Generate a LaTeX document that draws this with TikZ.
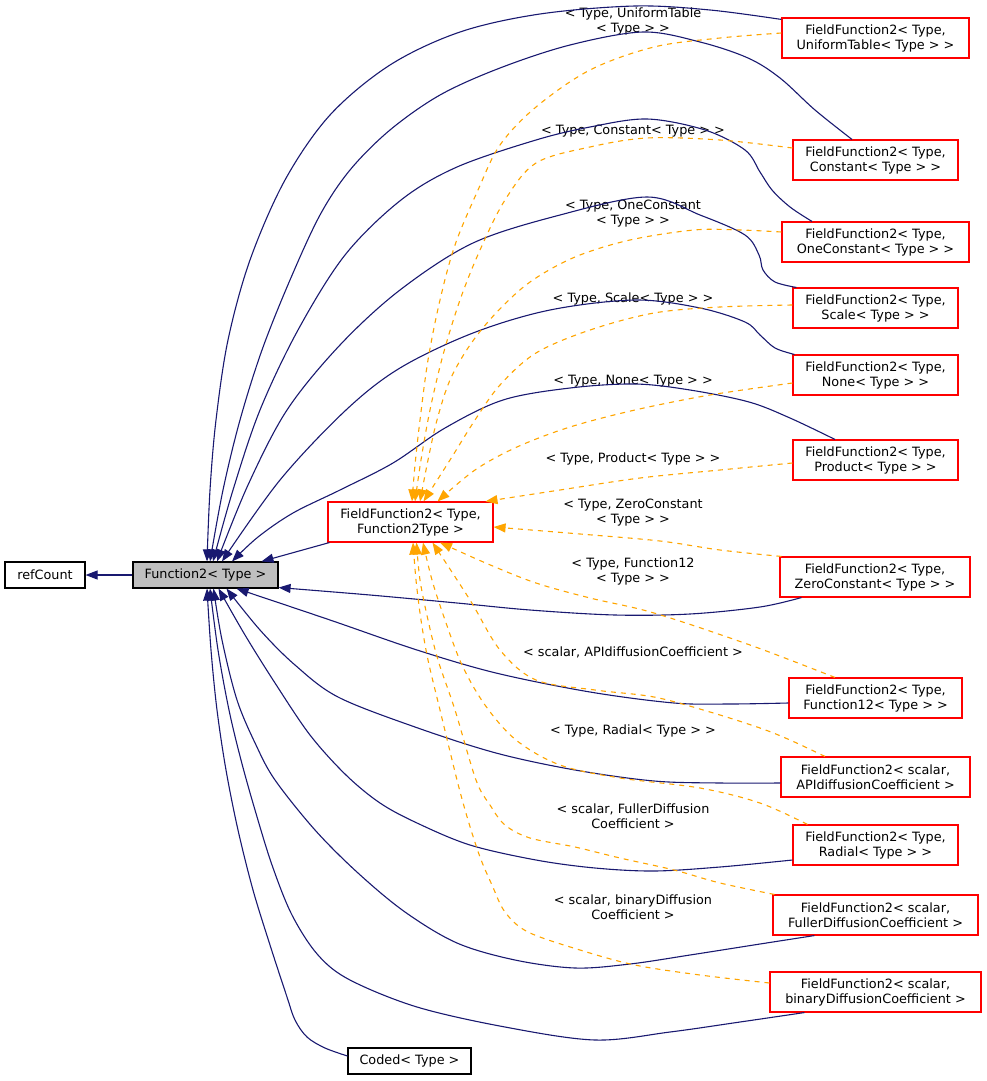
\documentclass[tikz,border=0pt]{standalone}
\usepackage{fontspec}
\setmainfont{DejaVu Sans}
\usetikzlibrary{arrows.meta}
\definecolor{navyedge}{HTML}{191970}
\definecolor{orangeedge}{HTML}{FFA500}
\definecolor{nodegray}{HTML}{BFBFBF}
\definecolor{nodered}{HTML}{FF0000}
\begin{document}
\begin{tikzpicture}[x=1pt,y=-1pt,
  box/.style={draw=black, line width=1.1pt, inner sep=0pt, align=center, font=\fontsize{12.8}{15}\selectfont},
  redbox/.style={box, draw=nodered, minimum height=40pt},
  lbl/.style={inner sep=0pt, align=center, font=\fontsize{12.8}{15}\selectfont},
  inh/.style={draw=navyedge, line width=1.1pt, -{Triangle[length=12pt,width=9pt]}},
  tmpl/.style={draw=orangeedge, line width=1.1pt, dash pattern=on 5pt off 5pt, -{Triangle[length=12pt,width=9pt]}},
  sm/.style={smooth, tension=0.55}
]
\useasboundingbox (0,0) rectangle (987,1081);

% nodes
\node[box, minimum width=80pt, minimum height=26pt] (rc) at (45,575) {refCount};
\node[box, fill=nodegray, minimum width=145pt, minimum height=26pt] (f2) at (205.5,575) {Function2< Type >};
\node[redbox, minimum width=165pt] (ff) at (410.5,522) {FieldFunction2< Type,\\Function2Type >};
\node[redbox, minimum width=187pt] (ut) at (875.5,38) {FieldFunction2< Type,\\ UniformTable< Type > >};
\node[redbox, minimum width=165pt] (cst) at (875.5,160) {FieldFunction2< Type,\\ Constant< Type > >};
\node[redbox, minimum width=187pt] (onec) at (875.5,242) {FieldFunction2< Type,\\ OneConstant< Type > >};
\node[redbox, minimum width=165pt] (scl) at (875.5,308) {FieldFunction2< Type,\\ Scale< Type > >};
\node[redbox, minimum width=165pt] (nne) at (875.5,375) {FieldFunction2< Type,\\ None< Type > >};
\node[redbox, minimum width=165pt] (prod) at (875.5,460) {FieldFunction2< Type,\\ Product< Type > >};
\node[redbox, minimum width=190pt] (zero) at (875,577) {FieldFunction2< Type,\\ ZeroConstant< Type > >};
\node[redbox, minimum width=173pt] (f12) at (875.5,698) {FieldFunction2< Type,\\ Function12< Type > >};
\node[redbox, minimum width=189pt] (api) at (875.5,777) {FieldFunction2< scalar,\\ APIdiffusionCoefficient >};
\node[redbox, minimum width=165pt] (rad) at (875.5,845) {FieldFunction2< Type,\\ Radial< Type > >};
\node[redbox, minimum width=205pt] (ful) at (875.5,915) {FieldFunction2< scalar,\\ FullerDiffusionCoefficient >};
\node[redbox, minimum width=211pt] (bin) at (875.5,992) {FieldFunction2< scalar,\\ binaryDiffusionCoefficient >};
\node[box, minimum width=123pt, minimum height=26pt] (coded) at (409.5,1061) {Coded< Type >};

% labels
\node[lbl] (l1) at (633,21) {< Type, UniformTable\\< Type > >};
\node[lbl] (l2) at (633,131) {< Type, Constant< Type > >};
\node[lbl] (l3) at (633,214) {< Type, OneConstant\\< Type > >};
\node[lbl] (l4) at (633,299) {< Type, Scale< Type > >};
\node[lbl] (l5) at (633,381) {< Type, None< Type > >};
\node[lbl] (l6) at (633,459) {< Type, Product< Type > >};
\node[lbl] (l7) at (633,513) {< Type, ZeroConstant\\< Type > >};
\node[lbl] (l8) at (633,571) {< Type, Function12\\< Type > >};
\node[lbl] (l9) at (633,652) {< scalar, APIdiffusionCoefficient >};
\node[lbl] (l10) at (633,731) {< Type, Radial< Type > >};
\node[lbl] (l11) at (633,816) {< scalar, FullerDiffusion\\Coefficient >};
\node[lbl] (l12) at (633,907) {< scalar, binaryDiffusion\\Coefficient >};

% navy inheritance edges
\draw[inh] (f2.west) -- (rc.east);
\draw[inh] ([xshift=2pt]ff.south west) -- ([xshift=56pt]f2.north);
\draw[inh] plot[sm] coordinates {([yshift=-2pt]ut.north west) (710,10) (635,6) (540,14) (460,32) (390,65) (330,115) (285,180) (250,260) (228,340) (216,420) (210,490) ([xshift=1.5pt]f2.north)};
\draw[inh] plot[sm] coordinates {([xshift=-23.5pt]cst.north) (815,110) (780,78) (748,58) (700,42) (643,32) (570,45) (500,68) (440,95) (390,130) (350,170) (320,215) (290,280) (262,350) (240,420) (223,490) ([xshift=4.5pt]f2.north)};
\draw[inh] plot[sm] coordinates {([xshift=-63.5pt]onec.north) (790,207) (772,190) (760,172) (745,150) (705,130) (647,119) (590,127) (536,140) (457,167) (401,200) (345,255) (298,330) (260,410) (233,490) ([xshift=7.5pt]f2.north)};
\draw[inh] plot[sm] coordinates {([xshift=4pt]scl.north west) (775,282) (763,270) (759,255) (745,235) (700,215) (647,197) (560,215) (473,243) (400,290) (340,345) (287,410) (248,485) ([xshift=11.5pt]f2.north)};
\draw[inh] plot[sm] coordinates {([xshift=2pt]nne.north west) (775,348) (760,335) (745,322) (700,308) (635,300) (550,310) (473,333) (400,368) (346,410) (280,480) ([xshift=16.5pt]f2.north)};
\draw[inh] plot[sm] coordinates {([xshift=-40.5pt]prod.north) (790,418) (749,402) (690,390) (635,384) (570,388) (503,400) (445,428) (393,463) (340,490) (293,513) (258,537) ([xshift=26.5pt]f2.north)};
\draw[inh] plot[sm] coordinates {([xshift=22pt]zero.south west) (760,607) (690,614) (615,615) (530,610) (457,603) (370,595) ([yshift=1pt]f2.south east)};
\draw[inh] plot[sm] coordinates {([yshift=-5pt]f12.west) (730,704) (674,703) (590,692) (496,673) (417,650) (330,620) ([xshift=31pt]f2.south)};
\draw[inh] plot[sm] coordinates {([yshift=-6pt]api.west) (720,783) (654,781) (575,770) (496,753) (415,727) (338,697) (295,665) (260,630) ([xshift=21pt]f2.south)};
\draw[inh] plot[sm] coordinates {([yshift=-15pt]rad.west) (720,867) (654,871) (595,868) (536,860) (470,845) (417,823) (380,803) (346,775) (310,735) (275,683) (245,635) ([xshift=13pt]f2.south)};
\draw[inh] plot[sm] coordinates {([xshift=42pt]ful.south west) (760,944) (690,955) (630,964) (575,968) (515,960) (457,943) (405,912) (358,873) (315,830) (275,780) (256,745) (237,700) (222,640) ([xshift=8pt]f2.south)};
\draw[inh] plot[sm] coordinates {([xshift=35pt]bin.south west) (740,1022) (670,1032) (595,1040) (505,1027) (417,1007) (350,980) (318,955) (292,915) (272,865) (255,810) (241,760) (229,710) (218,650) ([xshift=4.5pt]f2.south)};
\draw[inh] plot[sm] coordinates {([yshift=5pt]coded.west) (325,1048) (307,1037) (295,1020) (287,997) (270,945) (253,890) (238,830) (226,770) (217,710) (211,650) ([xshift=1.5pt]f2.south)};

% orange template edges
\draw[tmpl] plot[sm] coordinates {([yshift=5pt]ut.west) (720,38) (654,47) (590,70) (536,107) (500,145) (478,190) (455,245) (440,300) (428,360) (420,420) (415,465) ([xshift=1.5pt]ff.north)};
\draw[tmpl] plot[sm] coordinates {([yshift=12pt]cst.west) (720,140) (647,138) (590,147) (536,163) (505,200) (480,250) (460,300) (443,355) (430,410) (421,460) ([xshift=4.5pt]ff.north)};
\draw[tmpl] plot[sm] coordinates {([yshift=10pt]onec.west) (740,230) (694,230) (630,240) (575,257) (530,282) (496,313) (470,345) (450,380) (437,420) (428,460) ([xshift=9.5pt]ff.north)};
\draw[tmpl] plot[sm] coordinates {([yshift=3pt]scl.west) (720,307) (654,313) (590,330) (536,353) (500,385) (475,420) (450,460) ([xshift=13pt]ff.north)};
\draw[tmpl] plot[sm] coordinates {([yshift=-8pt]nne.west) (710,395) (635,410) (570,427) (517,447) (475,470) ([xshift=27pt]ff.north)};
\draw[tmpl] plot[sm] coordinates {([yshift=-3pt]prod.west) (720,470) (640,478) (560,490) ([xshift=75pt]ff.north)};
\draw[tmpl] plot[sm] coordinates {([xshift=2pt]zero.north west) (720,550) (660,541) (580,534) ([yshift=-5pt]ff.east)};
\draw[tmpl] plot[sm] coordinates {([xshift=-40.5pt]f12.north) (750,645) (654,613) (590,598) (536,583) (488,564) ([xshift=29.5pt]ff.south)};
\draw[tmpl] plot[sm] coordinates {([xshift=-50.5pt]api.north) (790,740) (760,728) (710,712) (654,697) (595,690) (536,680) (500,650) (470,600) ([xshift=22pt]ff.south)};
\draw[tmpl] plot[sm] coordinates {([xshift=15pt]rad.north west) (760,803) (700,788) (620,778) (560,765) (516,740) (485,705) (462,665) (445,620) (432,580) ([xshift=12.5pt]ff.south)};
\draw[tmpl] plot[sm] coordinates {([xshift=2pt]ful.north west) (720,883) (674,870) (620,858) (575,847) (530,838) (505,825) (490,805) (476,780) (455,710) (438,660) (428,620) (420,580) ([xshift=6pt]ff.south)};
\draw[tmpl] plot[sm] coordinates {([yshift=9pt]bin.west) (700,975) (635,965) (580,950) (528,932) (505,912) (492,885) (480,857) (468,820) (457,780) (440,710) (428,660) (421,620) (416,580) ([xshift=2.5pt]ff.south)};
\end{tikzpicture}
\end{document}
